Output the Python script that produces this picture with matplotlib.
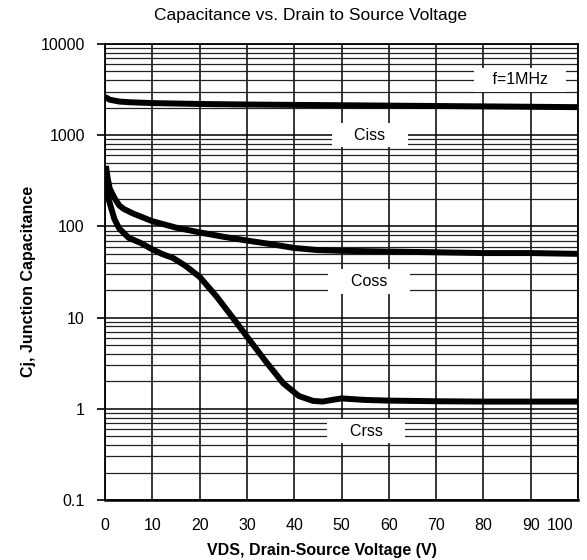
import numpy as np
import matplotlib.pyplot as plt
from matplotlib.ticker import FixedLocator, NullFormatter, LogLocator
from matplotlib.transforms import ScaledTranslation

plt.rcParams['font.family'] = ['Liberation Sans', 'DejaVu Sans']

# Ciss, Coss, Crss (pF vs V)
vds_ciss = [0, 1, 3, 5, 10, 20, 30, 40, 50, 60, 70, 80, 90, 100]
ciss = [2630, 2450, 2340, 2300, 2250, 2200, 2170, 2150, 2130, 2110, 2090, 2070, 2050, 2030]

vds_coss = [0.2, 0.6, 1, 2, 3, 4, 6, 10, 15, 20, 25, 30, 35, 40, 45, 50, 60, 70, 80, 90, 100]
coss = [460, 330, 260, 205, 170, 155, 138, 114, 97, 86, 77, 70, 64, 58, 55, 54, 53, 52, 51, 51, 50]

vds_crss = [0, 0.5, 1, 2, 3, 5, 7.5, 10, 12, 14.4, 17, 20, 23.6, 27, 30, 34, 37.7, 41, 44, 46, 48, 50, 55, 60, 70, 80, 90, 100]
crss = [280, 220, 180, 120, 95, 75, 66, 56, 50, 45, 37, 28, 17, 10, 6.2, 3.3, 1.9, 1.38, 1.22, 1.2, 1.25, 1.3, 1.25, 1.23, 1.21, 1.2, 1.2, 1.2]

x_ticks = [0, 10, 20, 30, 40, 50, 60, 70, 80, 90, 100]
y_ticks = [0.1, 1, 10, 100, 1000, 10000]
y_labels = ['0.1', '1', '10', '100', '1000', '10000']

fig = plt.figure(figsize=(5.87, 5.6), dpi=100)
ax = fig.add_axes([105 / 587, 60 / 560, 473 / 587, 456 / 560])

ax.plot(vds_ciss, ciss, color='black', lw=4.3, solid_capstyle='butt', zorder=5)
ax.plot(vds_coss, coss, color='black', lw=4.3, solid_capstyle='butt', zorder=5)
ax.plot(vds_crss, crss, color='black', lw=4.3, solid_capstyle='butt', zorder=5)

ax.set_yscale('log')
ax.set_xlim(0, 100)
ax.set_ylim(0.1, 10000)

ax.xaxis.set_major_locator(FixedLocator(x_ticks))
ax.set_xticklabels([str(t) for t in x_ticks])
ax.yaxis.set_major_locator(FixedLocator(y_ticks))
ax.set_yticklabels(y_labels)
ax.yaxis.set_minor_locator(LogLocator(base=10, subs=np.arange(2, 10)))
ax.yaxis.set_minor_formatter(NullFormatter())

ax.tick_params(axis='x', length=0, pad=13, labelsize=11.5)
ax.tick_params(axis='y', which='major', length=6, width=1.2, pad=8.5, labelsize=11.5, direction='out')
ax.tick_params(axis='y', which='minor', length=0)

# "100" label pulled inside the right edge
last = ax.get_xticklabels()[-1]
last.set_horizontalalignment('right')
last.set_transform(last.get_transform() + ScaledTranslation(-0.05, 0, fig.dpi_scale_trans))

ax.grid(True, which='major', axis='both', color='black', lw=1.1)
ax.grid(True, which='minor', axis='y', color='#222222', lw=0.9)
ax.set_axisbelow(True)

for s in ax.spines.values():
    s.set_linewidth(1.3)
ax.spines['bottom'].set_linewidth(1.8)

box = dict(facecolor='white', edgecolor='none', boxstyle='square,pad=0.3')
ax.text(87.7, 4030, '   f=1MHz   ', ha='center', va='center', fontsize=11.5, bbox=box, zorder=4)
ax.text(56, 1000, '    Ciss    ', ha='center', va='center', fontsize=11.5, bbox=box, zorder=4)
ax.text(55.8, 25, '    Coss    ', ha='center', va='center', fontsize=11.5, bbox=box, zorder=4)
ax.text(55.2, 0.57, '    Crss    ', ha='center', va='center', fontsize=11.5, bbox=box, zorder=4)

ax.set_title('Capacitance vs. Drain to Source Voltage', fontsize=12.5, pad=17, x=0.435)
ax.set_xlabel('VDS, Drain-Source Voltage (V)', fontsize=11.5, fontweight='bold')
ax.xaxis.set_label_coords(0.459, -0.095)
ax.set_ylabel('Cj, Junction Capacitance', fontsize=11.5, fontweight='bold')
ax.yaxis.set_label_coords(-0.145, 0.48)

fig.savefig('out.png', dpi=100)
